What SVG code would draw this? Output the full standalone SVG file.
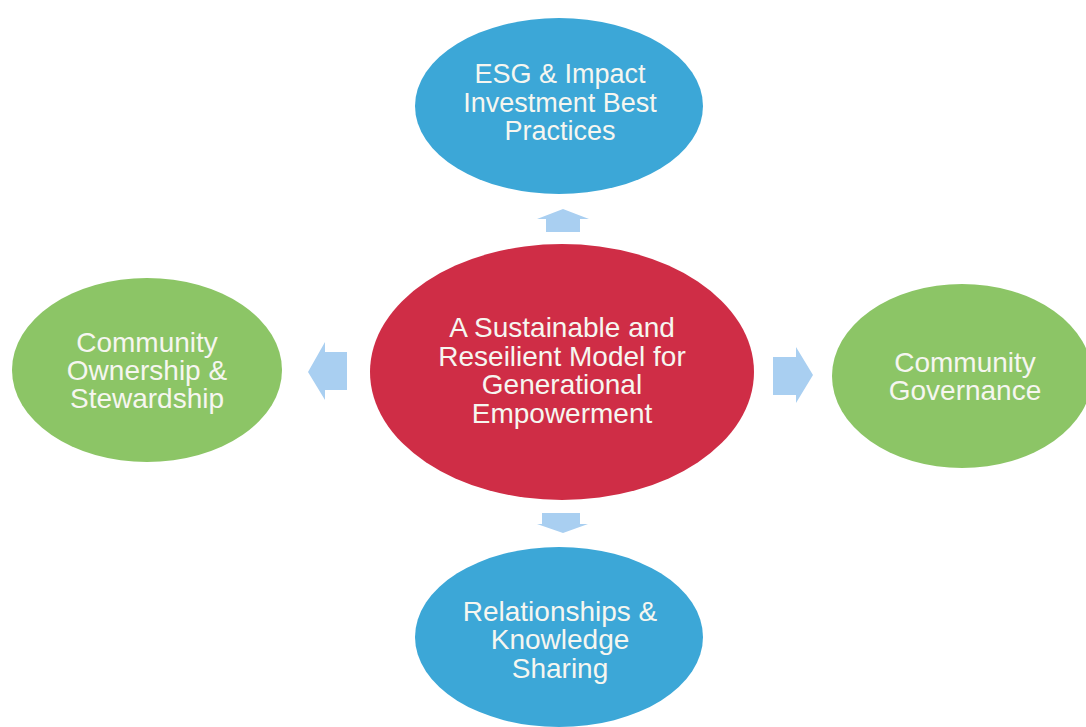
<svg xmlns="http://www.w3.org/2000/svg" width="1086" height="727" viewBox="0 0 1086 727">
<style>
.blue{fill:#3ca7d7}
.red{fill:#cf2d46}
.green{fill:#8cc566}
.arrow{fill:#a9cff1}
text{font-family:"Liberation Sans",Arial,sans-serif;font-size:27px;fill:#f6f6f0;text-anchor:middle}
.c{font-size:28px}
</style>
<rect width="1086" height="727" fill="#ffffff"/>
<g id="connectors">
<polygon class="arrow" points="563,209 589,219 580,219 580,232 546,232 546,219 537,219"/>
<polygon class="arrow" points="563,533 588,524 580,524 580,513 542,513 542,524 537,524"/>
<polygon class="arrow" points="308,372 325,342 325,352 347,352 347,390 325,390 325,400"/>
<polygon class="arrow" points="813,375 796,347 796,357 773,357 773,395 796,395 796,403"/>
</g>
<g id="node-top">
<ellipse class="blue" cx="559" cy="106" rx="144" ry="88"/>
<text x="560" y="83">ESG &amp; Impact</text>
<text x="560" y="112">Investment Best</text>
<text x="560" y="140">Practices</text>
</g>
<g id="node-center">
<ellipse class="red" cx="562" cy="372" rx="192" ry="128"/>
<text class="c" x="562" y="337">A Sustainable and</text>
<text class="c" x="562" y="366">Reseilient Model for</text>
<text class="c" x="562" y="394">Generational</text>
<text class="c" x="562" y="423">Empowerment</text>
</g>
<g id="node-left">
<ellipse class="green" cx="147" cy="370" rx="135" ry="92"/>
<text class="c" x="147" y="352">Community</text>
<text class="c" x="147" y="380">Ownership &amp;</text>
<text class="c" x="147" y="408">Stewardship</text>
</g>
<g id="node-right">
<ellipse class="green" cx="962" cy="376" rx="130" ry="92"/>
<text class="c" x="965" y="372">Community</text>
<text class="c" x="965" y="400">Governance</text>
</g>
<g id="node-bottom">
<ellipse class="blue" cx="559" cy="637" rx="144" ry="90"/>
<text class="c" x="560" y="621">Relationships &amp;</text>
<text class="c" x="560" y="649">Knowledge</text>
<text class="c" x="560" y="678">Sharing</text>
</g>
</svg>
